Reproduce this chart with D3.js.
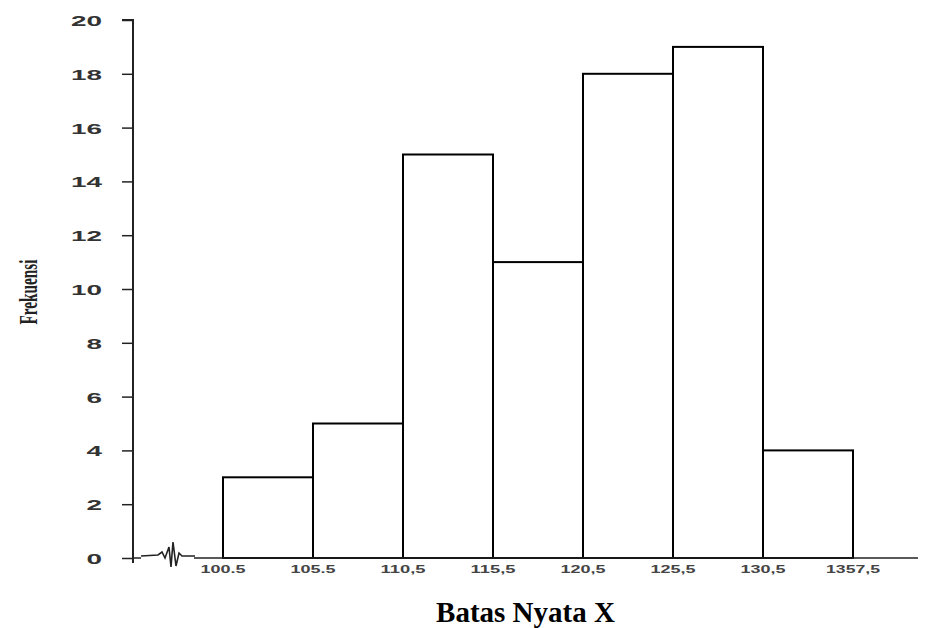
<!DOCTYPE html>
<html><head><meta charset="utf-8">
<script src="https://cdn.jsdelivr.net/npm/d3@7"></script>
<style>body{margin:0;background:#fff}svg{display:block}</style>
</head><body>
<script>
const boundaries = [100.5, 105.5, 110.5, 115.5, 120.5, 125.5, 130.5, 135.5];
const boundaryLabels = ["100.5", "105.5", "110,5", "115,5", "120,5", "125,5", "130,5", "1357,5"];
const frequencies = [3, 5, 15, 11, 18, 19, 4];
const yTicks = [0, 2, 4, 6, 8, 10, 12, 14, 16, 18, 20];
const xTitle = "Batas Nyata X";
const yTitle = "Frekuensi";

const W = 934, H = 628;
const svg = d3.select("body").append("svg").attr("width", W).attr("height", H);

const x = d3.scaleLinear().domain([100.5, 135.5]).range([223, 853]);
const y = d3.scaleLinear().domain([0, 20]).range([558, 20]);
const axisX = 133, axisEnd = 918;

// bars
const bins = frequencies.map((f, i) => ({x0: boundaries[i], x1: boundaries[i + 1], f}));
svg.append("g").selectAll("rect").data(bins).join("rect")
  .attr("x", d => x(d.x0)).attr("width", d => x(d.x1) - x(d.x0))
  .attr("y", d => y(d.f)).attr("height", d => y(0) - y(d.f))
  .attr("fill", "#fff").attr("stroke", "#000").attr("stroke-width", 2);

// y axis
const yAxis = d3.axisLeft(y).tickValues(yTicks).tickSize(11).tickPadding(20).tickFormat(d3.format("d"));
const gy = svg.append("g").attr("transform", `translate(${axisX},0)`).call(yAxis);
gy.select(".domain").attr("d", `M-11,${y(20)}H0V${y(0) + 5}`).attr("stroke", "#222").attr("stroke-width", 2);
gy.selectAll(".tick line").attr("stroke", "#222").attr("stroke-width", 1.5);
gy.selectAll(".tick text")
  .attr("font-family", "Liberation Sans, Arial, sans-serif").attr("font-size", 15).attr("font-weight", "bold")
  .attr("fill", "#333").attr("dy", "0.36em")
  .attr("textLength", d => String(d).length * 15.5).attr("lengthAdjust", "spacingAndGlyphs");

// x axis line (with break)
svg.append("line").attr("x1", axisX).attr("x2", 141).attr("y1", y(0)).attr("y2", y(0))
  .attr("stroke", "#222").attr("stroke-width", 1.5);
svg.append("line").attr("x1", 194).attr("x2", axisEnd).attr("y1", y(0)).attr("y2", y(0))
  .attr("stroke", "#222").attr("stroke-width", 1.5);

// axis break squiggle
svg.append("path")
  .attr("d", "M141,556 L158,555 L162,552 L165,558 L169,547 L171,567 L173,542 L176,566 L179,553 L182,556 L195,556")
  .attr("fill", "none").attr("stroke", "#222").attr("stroke-width", 1.6);

// x labels
svg.append("g").selectAll("text").data(boundaries).join("text")
  .attr("x", d => x(d)).attr("y", 573)
  .attr("text-anchor", "middle")
  .attr("font-family", "Liberation Sans, Arial, sans-serif").attr("font-size", 10).attr("font-weight", "bold")
  .attr("fill", "#444")
  .attr("textLength", (d, i) => boundaryLabels[i].length * 9).attr("lengthAdjust", "spacingAndGlyphs")
  .text((d, i) => boundaryLabels[i]);

// x title
svg.append("text").attr("x", (axisX + axisEnd) / 2).attr("y", 622).attr("text-anchor", "middle")
  .attr("font-family", "Liberation Serif, Times New Roman, serif").attr("font-size", 29).attr("font-weight", "bold")
  .attr("fill", "#000").text(xTitle);

// y title
svg.append("text").attr("transform", "translate(37,292) rotate(-90)")
  .attr("text-anchor", "middle")
  .attr("font-family", "Liberation Serif, Times New Roman, serif").attr("font-size", 25).attr("font-weight", "bold")
  .attr("fill", "#222")
  .attr("textLength", 65).attr("lengthAdjust", "spacingAndGlyphs")
  .text(yTitle);
</script>
</body></html>
